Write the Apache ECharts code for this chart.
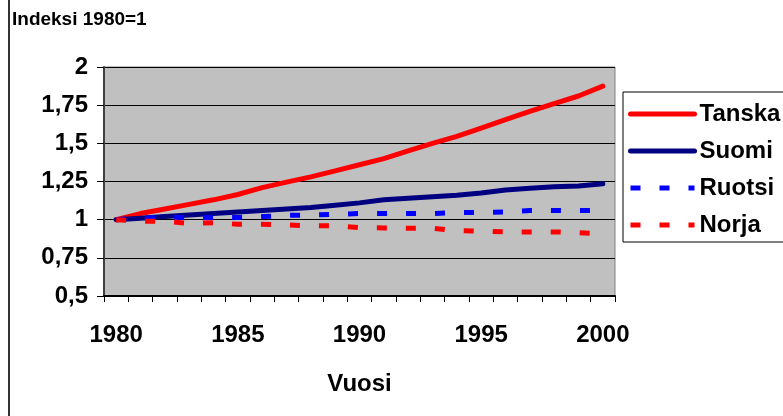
<!DOCTYPE html>
<html>
<head>
<meta charset="utf-8">
<script src="https://cdn.jsdelivr.net/npm/echarts@6/dist/echarts.min.js"></script>
<style>
html,body{margin:0;padding:0;background:#fff;}
#chart{width:783px;height:416px;}
</style>
</head>
<body>
<div id="chart"></div>
<script>
var years = ['1980','1981','1982','1983','1984','1985','1986','1987','1988','1989','1990',
             '1991','1992','1993','1994','1995','1996','1997','1998','1999','2000'];
var tanska = [1.00,1.04,1.07,1.10,1.13,1.165,1.21,1.246,1.28,1.32,1.36,1.40,1.45,1.50,1.545,1.60,1.655,1.71,1.76,1.81,1.875];
var suomi  = [1.00,1.01,1.02,1.03,1.04,1.05,1.06,1.07,1.08,1.094,1.11,1.13,1.14,1.15,1.16,1.175,1.195,1.205,1.215,1.22,1.235];
var ruotsi = [1.00,1.01,1.015,1.015,1.015,1.015,1.02,1.028,1.03,1.035,1.04,1.04,1.04,1.04,1.047,1.047,1.05,1.06,1.06,1.06,1.06];
var norja  = [1.00,0.99,0.99,0.975,0.98,0.97,0.97,0.965,0.96,0.96,0.948,0.946,0.944,0.944,0.928,0.925,0.92,0.92,0.92,0.915,0.908];
var seriesNames = ['Tanska','Suomi','Ruotsi','Norja'];
var yAxisTitle = 'Indeksi 1980=1';
var xAxisTitle = 'Vuosi';

var FONT = '"Liberation Sans", Arial, sans-serif';
var chart = echarts.init(document.getElementById('chart'), null, {renderer:'canvas'});

function mk(name, data, color, dashed, z){
  return {
    name: name, type: 'line', data: data, symbol: 'none', z: z,
    animation: false,
    lineStyle: {color: color, width: 5, type: dashed ? [10, 19] : 'solid', cap: dashed ? 'butt' : 'round', join: 'round'},
    itemStyle: {color: color}
  };
}

chart.setOption({
  animation: false,
  backgroundColor: '#ffffff',
  title: {
    text: yAxisTitle, left: 12, top: 10, padding: 0,
    textStyle: {fontFamily: FONT, fontSize: 19, fontWeight: 'bold', color: '#000'}
  },
  graphic: [{
    type: 'line', shape: {x1: 9, y1: 0, x2: 9, y2: 416},
    style: {stroke: '#333', lineWidth: 2}
  }],
  grid: {
    left: 104, right: 168, top: 67, bottom: 120,
    show: true, backgroundColor: '#c0c0c0', borderColor: '#808080', borderWidth: 1
  },
  legend: {
    data: seriesNames,
    orient: 'vertical', left: 623, top: 92,
    padding: [7, 12, 2, 5], itemGap: 7, itemWidth: 64, itemHeight: 14,
    borderColor: '#000', borderWidth: 1, backgroundColor: '#fff',
    itemStyle: {opacity: 0},
    lineStyle: {width: 5},
    textStyle: {fontFamily: FONT, fontSize: 24, fontWeight: 'bold', color: '#000', lineHeight: 30}
  },
  xAxis: {
    type: 'category', data: years, boundaryGap: true,
    name: xAxisTitle, nameLocation: 'middle', nameGap: 76,
    nameTextStyle: {fontFamily: FONT, fontSize: 24, fontWeight: 'bold', color: '#000'},
    axisLine: {lineStyle: {color: '#000', width: 2}},
    axisTick: {show: true, interval: 0, length: 6, lineStyle: {color: '#000', width: 1}},
    axisLabel: {interval: 4, margin: 27, fontFamily: FONT, fontSize: 24, fontWeight: 'bold', color: '#000'},
    splitLine: {show: false}
  },
  yAxis: {
    type: 'value', min: 0.5, max: 2, interval: 0.25,
    axisLine: {show: true, lineStyle: {color: '#404040', width: 2}},
    axisTick: {show: true, length: 7, lineStyle: {color: '#000', width: 1}},
    axisLabel: {margin: 16, fontFamily: FONT, fontSize: 24, fontWeight: 'bold', color: '#000',
      formatter: function(v){ return String(v).replace('.', ','); }},
    splitLine: {show: true, lineStyle: {color: '#000', width: 1}}
  },
  series: [
    mk('Tanska', tanska, '#ff0000', false, 2),
    mk('Suomi', suomi, '#000080', false, 3),
    mk('Ruotsi', ruotsi, '#0000ff', true, 4),
    mk('Norja', norja, '#ff0000', true, 5)
  ]
});
</script>
</body>
</html>
